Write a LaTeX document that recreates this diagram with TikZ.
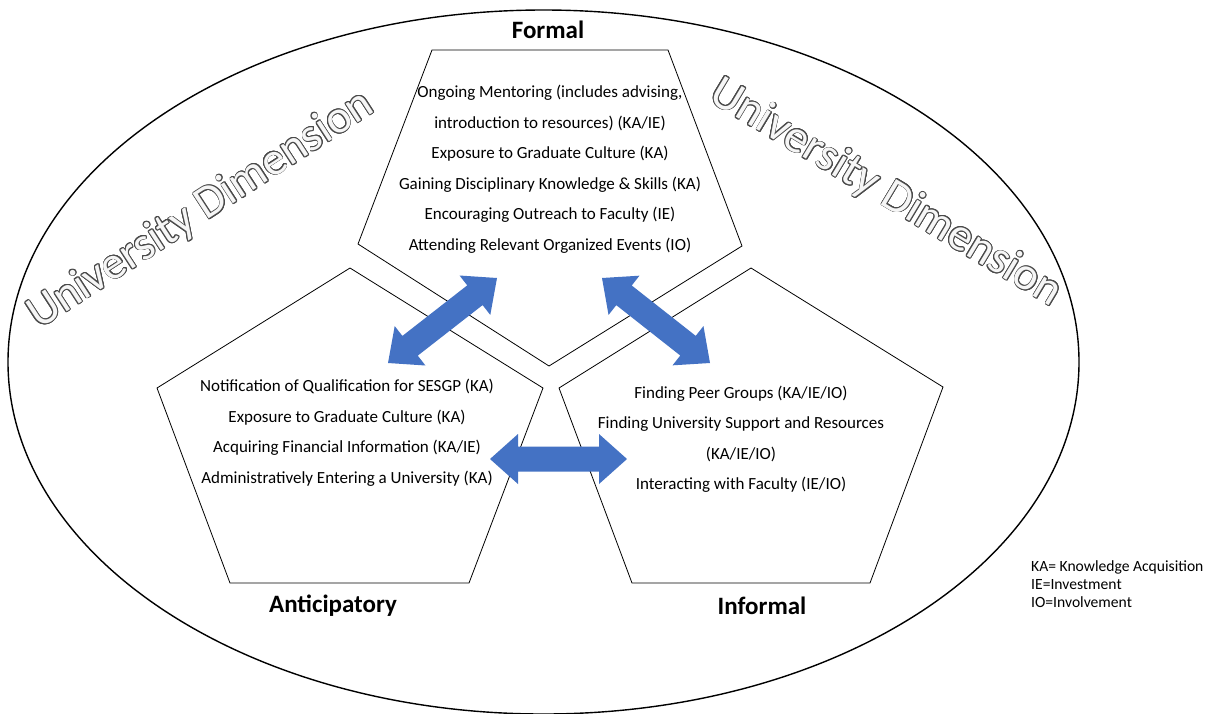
\documentclass[tikz,border=0pt]{standalone}
\usepackage{fontspec}
\setmainfont{Carlito}
\usetikzlibrary{calc}
\definecolor{arrowblue}{HTML}{4472C4}
\definecolor{olgray}{HTML}{4A4A4A}
\definecolor{olfill}{HTML}{F6F6F6}
\newcommand{\outlined}[1]{%
  \leavevmode\rlap{\color{olgray}\foreach \a in {0,22.5,...,337.5}{%
    \pgfmathsetlengthmacro\dx{0.85pt*cos(\a)}%
    \pgfmathsetlengthmacro\dy{0.85pt*sin(\a)}%
    \rlap{\hspace*{\dx}\raisebox{\dy}{#1}}}}%
  \textcolor{olfill}{#1}}
\newcommand{\dblblock}[2]{%
  \coordinate (#1h) at ($(#1)!28pt!(#2)$);
  \coordinate (#2h) at ($(#2)!28pt!(#1)$);
  \fill[arrowblue] (#1)
    -- ($(#1h)!25pt!90:(#2h)$) -- ($(#1h)!12.5pt!90:(#2h)$)
    -- ($(#2h)!12.5pt!-90:(#1h)$) -- ($(#2h)!25pt!-90:(#1h)$)
    -- (#2)
    -- ($(#2h)!25pt!90:(#1h)$) -- ($(#2h)!12.5pt!90:(#1h)$)
    -- ($(#1h)!12.5pt!-90:(#2h)$) -- ($(#1h)!25pt!-90:(#2h)$)
    -- cycle;}
\tikzset{
  pent/.style={draw=black, line width=0.8pt},
  body/.style={align=center, font=\fontsize{17}{30.5}\selectfont, inner sep=0pt},
  title/.style={font=\fontsize{25}{30}\selectfont\bfseries, inner sep=0pt},
  legend/.style={align=left, font=\fontsize{15.6}{18.3}\selectfont, inner sep=0pt, anchor=north west},
  dimlabel/.style={font=\fontsize{46.5}{50}\selectfont, inner sep=0pt}
}
\begin{document}
\begin{tikzpicture}[x=1pt,y=-1pt]
\useasboundingbox (0,0) rectangle (1209,713);
\fill[white] (0,0) rectangle (1209,713);
% outer ellipse
\draw[line width=1.4pt] (543.5,362) ellipse [x radius=535.5pt, y radius=352pt];
% University Dimension labels
\node[dimlabel, rotate=33] (udl) at (201,210) {\outlined{University Dimension}};
\node[dimlabel, rotate=-31] (udr) at (886,193) {\outlined{University Dimension}};
% pentagons
\draw[pent] (432,50) -- (668,50) -- (742,246) -- (549,366) -- (358,244) -- cycle;
\draw[pent] (350,268) -- (543,388) -- (469,583) -- (230,583) -- (157,388) -- cycle;
\draw[pent] (751,268) -- (943,387) -- (870,583) -- (632,583) -- (559,388) -- cycle;
% titles
\node[title] (formal) at (548,30) {Formal};
\node[title] (antic) at (333,606) {Anticipatory};
\node[title] (inform) at (762,606) {Informal};
% texts
\node[body] (ftext) at (550,169) {Ongoing Mentoring (includes advising,\\introduction to resources) (KA/IE)\\Exposure to Graduate Culture (KA)\\Gaining Disciplinary Knowledge \& Skills (KA)\\Encouraging Outreach to Faculty (IE)\\Attending Relevant Organized Events (IO)};
\node[body] (atext) at (347,432.5) {Notification of Qualification for SESGP (KA)\\Exposure to Graduate Culture (KA)\\Acquiring Financial Information (KA/IE)\\Administratively Entering a University (KA)};
\node[body] (itext) at (741,439) {Finding Peer Groups (KA/IE/IO)\\Finding University Support and Resources\\(KA/IE/IO)\\Interacting with Faculty (IE/IO)};
% legend
\node[legend] (leg) at (1031,560) {KA= Knowledge Acquisition\\IE=Investment\\IO=Involvement};
% arrows
\coordinate (af1) at (388,363);
\coordinate (af2) at (497,278);
\coordinate (fi1) at (602,278);
\coordinate (fi2) at (710,363);
\coordinate (ai1) at (490,459);
\coordinate (ai2) at (627,459);
\dblblock{af1}{af2}
\dblblock{fi1}{fi2}
\dblblock{ai1}{ai2}
\end{tikzpicture}
\end{document}
